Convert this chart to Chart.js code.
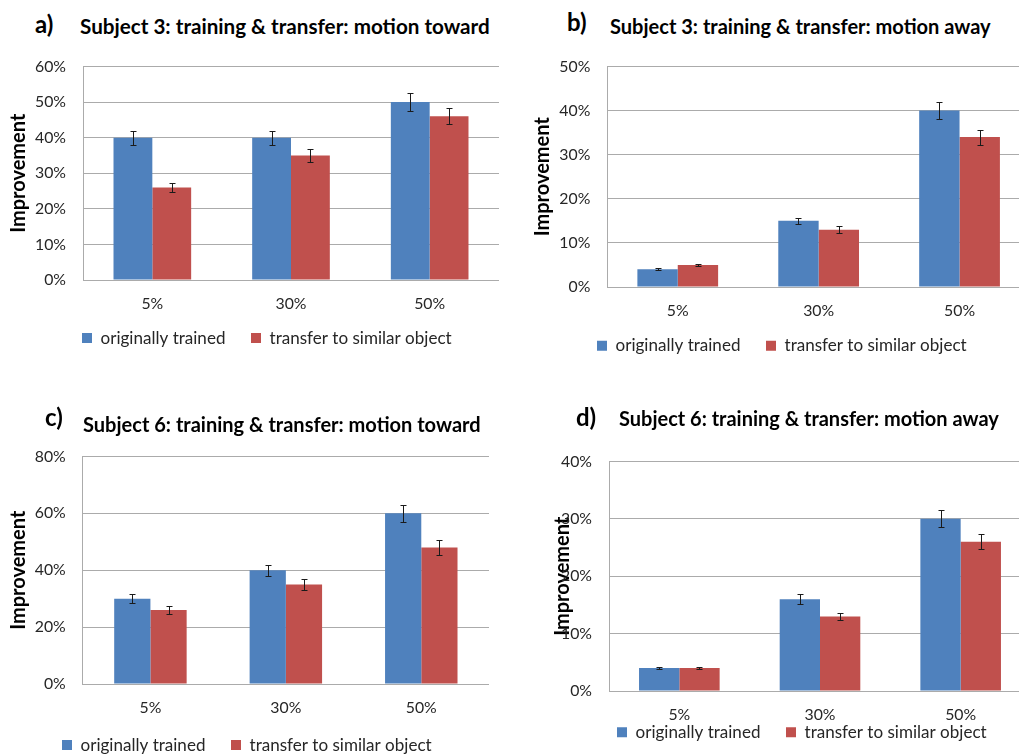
<!DOCTYPE html>
<html>
<head>
<meta charset="utf-8">
<script src="https://cdn.jsdelivr.net/npm/chart.js@4.4.1/dist/chart.umd.min.js"></script>
<style>
  html, body { margin: 0; padding: 0; background: #fff; overflow: hidden; }
  #page { position: relative; width: 1019px; height: 755px; overflow: hidden; background: #fff; }
  #page canvas { position: absolute; }
  .lbl { position: absolute; font-family: Lato, sans-serif; font-weight: bold; color: #000; white-space: nowrap; line-height: 1; }
</style>
</head>
<body>
<div id="page"></div>
<script>
// --- data ---
const categories = ['5%', '30%', '50%'];
const seriesNames = ['originally trained', 'transfer to similar object'];
const panelLetters = ['a)', 'b)', 'c)', 'd)'];
const panelTitles = [
  'Subject 3: training & transfer: motion toward',
  'Subject 3: training & transfer: motion away',
  'Subject 6: training & transfer: motion toward',
  'Subject 6: training & transfer: motion away'
];
const yAxisTitle = 'Improvement';
const yMax = [60, 50, 80, 40];
const yStep = [10, 10, 20, 10];

const trainedA = [40, 40, 50];
const trainedErrA = [2, 2, 2.5];
const transferA = [26, 35, 46];
const transferErrA = [1.3, 1.8, 2.3];

const trainedB = [4, 15, 40];
const trainedErrB = [0.2, 0.75, 2];
const transferB = [5, 13, 34];
const transferErrB = [0.25, 0.75, 1.7];

const trainedC = [30, 40, 60];
const trainedErrC = [1.6, 2, 3];
const transferC = [26, 35, 48];
const transferErrC = [1.3, 1.8, 2.5];

const trainedD = [4, 16, 30];
const trainedErrD = [0.2, 0.85, 1.5];
const transferD = [4, 13, 26];
const transferErrD = [0.2, 0.65, 1.3];

const trained = [trainedA, trainedB, trainedC, trainedD];
const trainedErr = [trainedErrA, trainedErrB, trainedErrC, trainedErrD];
const transfer = [transferA, transferB, transferC, transferD];
const transferErr = [transferErrA, transferErrB, transferErrC, transferErrD];

// --- layout (page pixels) ---
// plot = [left, top, right, bottom]; letter/title = [x, baseline]; legend = [x, centre y]
const layouts = [
  { cx: 0,   cy: 40,  plot: [83, 59, 499, 280],      yTitleX: 19,    letter: [35, 33],    title: [80, 34, 410],    legend: [82, 338],    cat: 0.56 },
  { cx: 530, cy: 40,  plot: [607.3, 56.7, 1029.4, 286.3], yTitleX: 543, letter: [567, 31], title: [610, 33.5, 381], legend: [597, 345.7], cat: 0.573 },
  { cx: 0,   cy: 430, plot: [82.7, 453.3, 488.3, 683.3], yTitleX: 19,  letter: [45, 426],   title: [83, 432, 398],   legend: [62, 745],    cat: 0.535 },
  { cx: 545, cy: 435, plot: [609, 455.3, 1031, 690.3],  yTitleX: 562.5, letter: [576, 426], title: [619, 426, 380],  legend: [617, 732.3], cat: 0.573 }
];

const FONT = 'Lato';
const blue = '#4F81BD';
const red = '#C0504D';
const gridColor = '#ababab';
const textColor = '#262626';
const X_AXIS_H = 40;
const LEGEND_H = 30;

const measureCtx = document.createElement('canvas').getContext('2d');
function fitSize(text, weight, target) {
  measureCtx.font = weight + ' 100px ' + FONT;
  return 100 * target / measureCtx.measureText(text).width;
}
function textWidth(text, weight, size) {
  measureCtx.font = weight + ' ' + size + 'px ' + FONT;
  return measureCtx.measureText(text).width;
}

const tickFs = fitSize('60%', 'normal', 31);
const legendFs = fitSize(seriesNames[0], 'normal', 125);
const legendPad = 169 - 10 - legendFs / 2 - textWidth(seriesNames[0], 'normal', legendFs);

const errorBars = {
  id: 'errorBars',
  afterDatasetsDraw(chart) {
    const ctx = chart.ctx;
    const y = chart.scales.y;
    ctx.save();
    ctx.strokeStyle = '#1a1a1a';
    ctx.lineWidth = 1;
    chart.data.datasets.forEach((ds, i) => {
      chart.getDatasetMeta(i).data.forEach((bar, j) => {
        const top = Math.round(y.getPixelForValue(ds.data[j] + ds.errors[j])) + 0.5;
        const bot = Math.round(y.getPixelForValue(ds.data[j] - ds.errors[j])) + 0.5;
        const x = Math.round(bar.x) + 0.5;
        ctx.beginPath();
        ctx.moveTo(x, top); ctx.lineTo(x, bot);
        ctx.moveTo(x - 3, top); ctx.lineTo(x + 3, top);
        ctx.moveTo(x - 3, bot); ctx.lineTo(x + 3, bot);
        ctx.stroke();
      });
    });
    ctx.restore();
  }
};

// moves the bottom legend to a given start x / centre y (canvas pixels)
function legendPlacer(x, y, itemH) {
  return {
    id: 'legendPlacer',
    afterLayout(chart) {
      const lg = chart.legend;
      const pad = lg.options.labels.padding;
      const dx = x - (lg.left + pad);
      lg.left += dx; lg.right += dx;
      lg.top = y - pad - itemH / 2;
      lg.height = pad + itemH + 10;
      lg.bottom = lg.top + lg.height;
    }
  };
}

const page = document.getElementById('page');

layouts.forEach((L, p) => {
  const [pl, pt, pr, pb] = L.plot;
  const W = Math.ceil(pr - L.cx);
  const H = Math.ceil(pb - L.cy + X_AXIS_H + LEGEND_H);
  const canvas = document.createElement('canvas');
  canvas.width = W; canvas.height = H;
  canvas.style.left = L.cx + 'px';
  canvas.style.top = L.cy + 'px';
  canvas.style.width = W + 'px';
  canvas.style.height = H + 'px';
  page.appendChild(canvas);

  const letter = document.createElement('div');
  letter.className = 'lbl';
  letter.textContent = panelLetters[p];
  letter.style.fontSize = '24px';
  letter.style.left = L.letter[0] + 'px';
  letter.style.top = (L.letter[1] - 0.887 * 24) + 'px';
  page.appendChild(letter);

  const tFs = fitSize(panelTitles[p], 'bold', L.title[2]);
  const title = document.createElement('div');
  title.className = 'lbl';
  title.textContent = panelTitles[p];
  title.style.fontSize = tFs + 'px';
  title.style.left = L.title[0] + 'px';
  title.style.top = (L.title[1] - 0.887 * tFs) + 'px';
  page.appendChild(title);

  const yW = pl - L.cx;
  const yTitlePad = L.yTitleX - L.cx - 12;

  new Chart(canvas, {
    type: 'bar',
    data: {
      labels: categories,
      datasets: [
        { label: seriesNames[0], data: trained[p], errors: trainedErr[p], backgroundColor: blue, borderWidth: 0,
          categoryPercentage: L.cat, barPercentage: 1 },
        { label: seriesNames[1], data: transfer[p], errors: transferErr[p], backgroundColor: red, borderWidth: 0,
          categoryPercentage: L.cat, barPercentage: 1 }
      ]
    },
    options: {
      responsive: false,
      animation: false,
      devicePixelRatio: 1,
      layout: { autoPadding: false, padding: { left: 0, right: 0, top: pt - L.cy, bottom: 0 } },
      plugins: {
        legend: {
          position: 'bottom',
          align: 'start',
          maxHeight: LEGEND_H,
          labels: {
            boxWidth: 10, boxHeight: 10, padding: legendPad, color: textColor,
            font: { family: FONT, size: legendFs }
          }
        },
        tooltip: { enabled: false },
        title: { display: false }
      },
      scales: {
        x: {
          grid: { display: false, drawTicks: false },
          border: { color: gridColor },
          ticks: { padding: 14, color: textColor, font: { family: FONT, size: tickFs } },
          afterFit: s => { s.height = X_AXIS_H; }
        },
        y: {
          min: 0, max: yMax[p],
          grid: { color: gridColor, drawTicks: false },
          border: { color: gridColor },
          ticks: { stepSize: yStep[p], padding: 17, color: textColor, font: { family: FONT, size: tickFs },
                   callback: v => v + '%' },
          title: { display: true, text: yAxisTitle, color: '#000',
                   font: { family: FONT, size: 20, weight: 'bold' }, padding: { top: yTitlePad, bottom: 0 } },
          afterFit: s => { s.width = yW; }
        }
      }
    },
    plugins: [errorBars, legendPlacer(L.legend[0] - L.cx, L.legend[1] - L.cy, Math.max(legendFs, 10))]
  });
});
</script>
</body>
</html>
